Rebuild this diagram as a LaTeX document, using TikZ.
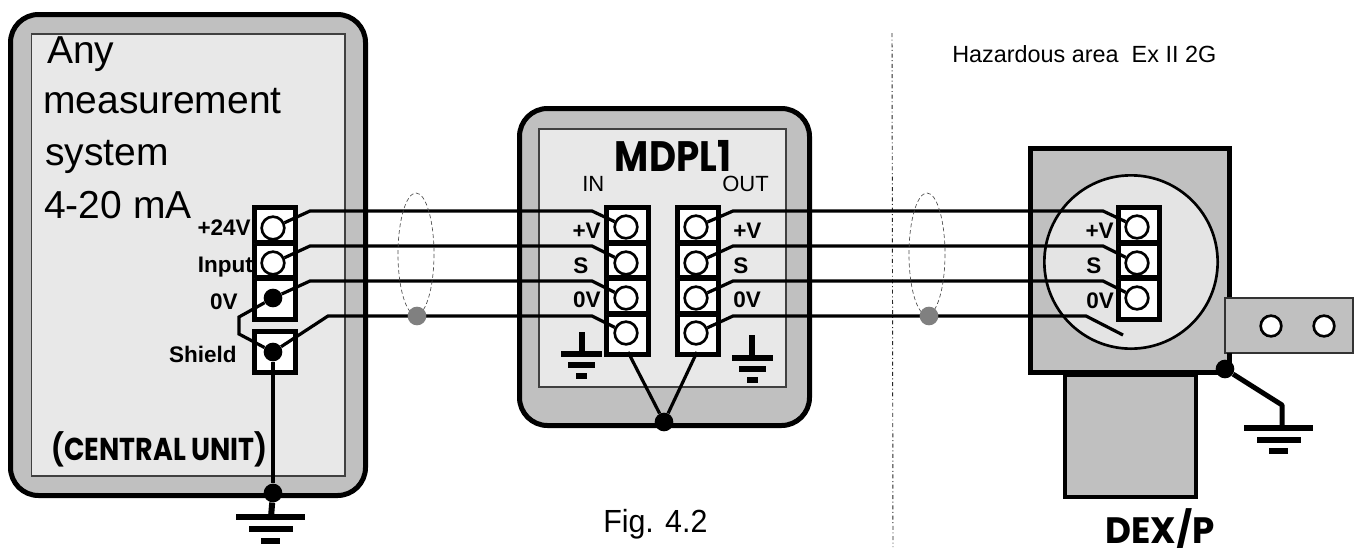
\documentclass[tikz,border=0pt]{standalone}
\usepackage{fontspec}
\usepackage{graphicx}
\usetikzlibrary{calc}
\setmainfont{Liberation Sans}
\newfontfamily\heavyfont[BoldFont={Poppins Bold}]{Poppins}
\newcommand{\pxfont}[1]{\fontsize{\fpeval{#1*0.75}}{\fpeval{#1*0.9}}\selectfont}
% x, y of the top bar, half widths of the three bars
\newcommand{\earth}[5]{%
  \fill[black] ($(#1,#2)+(-#3,-3)$) rectangle ($(#1,#2)+(#3,3)$);
  \fill[black] ($(#1,#2)+(-#4,#5-3)$) rectangle ($(#1,#2)+(#4,#5+3)$);
  \fill[black] ($(#1,#2)+(-#4*0.44,2*#5-3)$) rectangle ($(#1,#2)+(#4*0.44,2*#5+3)$);}
\newcommand{\termblock}[5]{% x1 x2 y1 y2 seps
  \draw[termframe] (#1,#3) rectangle (#2,#4);
  \foreach \s in {#5} {\draw[termframe] (#1,\s) -- (#2,\s);}}
\tikzset{
  housing/.style={draw=black,line width=3.75pt,fill=caseg,rounded corners=21pt},
  panel/.style={draw=black!75,line width=1pt,fill=panelg},
  termframe/.style={draw=black,line width=4.2pt,fill=white},
  screw/.style={circle,draw=black,line width=2pt,fill=white,minimum size=17pt,inner sep=0pt},
  tie/.style={circle,fill=black,minimum size=14pt,inner sep=0pt},
  shielddot/.style={circle,fill=black!50,minimum size=14pt,inner sep=0pt},
  wire/.style={draw=black,line width=2.4pt},
  shieldloop/.style={draw=black!70,line width=0.5pt,densely dashed},
  lab/.style={inner sep=0pt,font=\pxfont{22.5}\bfseries},
  plain/.style={inner sep=0pt,font=\pxfont{22}},
  bigtext/.style={inner sep=0pt,anchor=base west,font=\pxfont{39}},
  heavy/.style={inner sep=0pt,font=\heavyfont\bfseries\pxfont{#1}},
}
\definecolor{caseg}{HTML}{C0C0C0}
\definecolor{panelg}{HTML}{E8E8E8}
\definecolor{discg}{HTML}{E4E4E4}
\begin{document}
\begin{tikzpicture}[x=0.75pt,y=-0.75pt]
\useasboundingbox (0,0) rectangle (1357,547);
% left unit
\draw[housing] (10.5,14.5) rectangle (365.5,495.5);
\draw[panel] (31.5,34) rectangle (345,476);
\node[bigtext] (t1) at (47,63) {Any};
\node[bigtext] (t2) at (43,113) {measurement};
\node[bigtext] (t3) at (45,165) {system};
\node[bigtext] (t4) at (44,218) {4-20 mA};
\node[heavy=27.5,anchor=base] (tc) at (159.5,460) {\scalebox{0.98}[1.15]{(CENTRAL UNIT)}};
\node[lab,anchor=base east] (l24) at (251,235) {+24V};
\node[lab,anchor=base east] (lin) at (253,272) {Input};
\node[lab,anchor=base east] (l0) at (238,309) {0V};
\node[lab,anchor=base east] (lsh) at (237,362) {Shield};
\termblock{254.5}{295.5}{207.5}{319.5}{243,278}
\termblock{254.5}{295.5}{331.5}{372.5}{}
\node[screw] (L1) at (273,228) {};
\node[screw] (L2) at (273,263) {};
\node[tie] (L3) at (273,298) {};
\node[tie] (L4) at (273,352) {};
\node[tie] (Lg) at (273,493) {};
% middle unit
\draw[housing] (519.5,108.5) rectangle (809.5,425.5);
\draw[panel] (539,129) rectangle (786,387);
\node[heavy=38,anchor=base] (tm) at (673,171) {\scalebox{0.98}[1.12]{MDPL1}};
\node[plain,anchor=base west] (tinn) at (582,191) {IN};
\node[plain,anchor=base west] (tout) at (722,191) {OUT};
\node[lab,anchor=base east] (m1l) at (601,238) {+V};
\node[lab,anchor=base west] (m2l) at (573,273) {S};
\node[lab,anchor=base east] (m3l) at (601,307) {0V};
\node[lab,anchor=base west] (o1l) at (733,238) {+V};
\node[lab,anchor=base west] (o2l) at (733,273) {S};
\node[lab,anchor=base west] (o3l) at (733,307) {0V};
\termblock{606.5}{648.5}{207.5}{354.5}{243,278,314}
\termblock{677.5}{718.5}{207.5}{354.5}{243,278,314}
\node[screw] (M1) at (626,227) {};
\node[screw] (M2) at (626,263) {};
\node[screw] (M3) at (626,298) {};
\node[screw] (M4) at (626,333) {};
\node[screw] (O1) at (696,227) {};
\node[screw] (O2) at (696,263) {};
\node[screw] (O3) at (696,298) {};
\node[screw] (O4) at (696,333) {};
\node[tie] (Mg) at (664,422) {};
\coordinate (Min) at (628,352);
\coordinate (Mout) at (697,352);
\draw[wire] (Min) -- (Mg);
\draw[wire] (Mout) -- (Mg);
\draw[line width=4pt] (582,332) -- (582,354);
\earth{581.5}{354}{20.5}{13.5}{11}
\draw[line width=4pt] (752,335) -- (752,358);
\earth{752.5}{358}{20.5}{13.5}{11}
% zone boundary
\coordinate (zt) at (892,33);
\coordinate (zb) at (893,547);
\draw[draw=black!85,line width=0.7pt,dash dot] (zt) -- (zb);
\node[inner sep=0pt,anchor=base west,font=\pxfont{23.4}] (haz) at (952,62) {Hazardous area\ \ Ex II 2G};
% DEX/P
\draw[draw=black,line width=3pt,fill=caseg] (1065,375) rectangle (1195.5,497);
\draw[draw=black,line width=3.75pt,fill=caseg] (1030.5,148.5) rectangle (1229.5,372.5);
\draw[draw=black!80,line width=2pt,fill=caseg] (1225,298) rectangle (1353,353);
\draw[line width=3.75pt] (1229.5,353) -- (1229.5,369);
\node[circle,draw=black,line width=2pt,fill=discg,minimum size=130pt,inner sep=0pt] (disc) at (1131,262) {};
\node[lab,anchor=base east] (d1l) at (1114,238) {+V};
\node[lab,anchor=base west] (d2l) at (1086,273) {S};
\node[lab,anchor=base west] (d3l) at (1086,308) {0V};
\termblock{1118.5}{1159.5}{207.5}{319.5}{243,278}
\node[screw] (D1) at (1137,227) {};
\node[screw] (D2) at (1137,263) {};
\node[screw] (D3) at (1137,298) {};
\coordinate (D4) at (1123,335);
\node[screw,minimum size=15.5pt] (H1) at (1271,326) {};
\node[screw,minimum size=15.5pt] (H2) at (1324,326) {};
\node[tie] (Dg) at (1225,369) {};
\draw[line width=3.75pt,line join=round] (Dg) -- (1282,405) -- (1282,428);
\earth{1278.5}{428}{34.5}{22}{11.5}
\node[heavy=34,anchor=base] (td) at (1160,543) {\scalebox{1.05}[1.08]{DEX/P}};
\node[inner sep=0pt,anchor=base west,font=\pxfont{32}] (tf) at (603,532) {\scalebox{0.95}[1]{Fig. 4.2}};
% wires
\draw[wire] (L1) -- (310,211) -- (592,211) -- (M1);
\draw[wire] (L2) -- (310,246) -- (592,246) -- (M2);
\draw[wire] (L3) -- (310,281) -- (592,281) -- (M3);
\draw[wire] (L4) -- (328,316) -- (592,316) -- (M4);
\draw[wire] (O1) -- (733,211) -- (1103,211) -- (D1);
\draw[wire] (O2) -- (733,246) -- (1103,246) -- (D2);
\draw[wire] (O3) -- (733,281) -- (1103,281) -- (D3);
\draw[wire] (O4) -- (733,316) -- (1086,316) -- (D4);
\draw[wire] (L3) -- (239,317) -- (239,334) -- (L4);
\draw[wire] (L4) -- (Lg);
\draw[line width=4.5pt] (Lg) -- (271,517);
\earth{270.5}{517}{34.5}{22}{12}
% shields
\draw[shieldloop] (416,254) ellipse [x radius=18,y radius=61];
\draw[shieldloop] (927,254) ellipse [x radius=18,y radius=61];
\node[shielddot] (S1) at (417,316) {};
\node[shielddot] (S2) at (929,316) {};
\end{tikzpicture}
\end{document}
